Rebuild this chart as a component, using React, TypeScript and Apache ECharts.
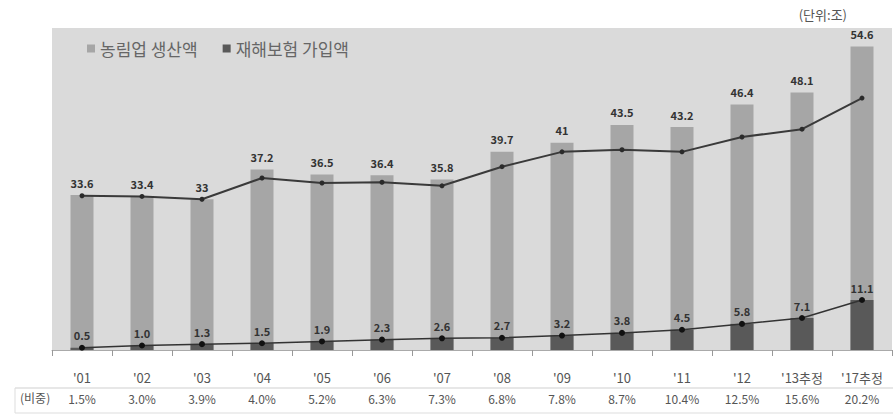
import React, { useEffect, useRef } from "react";
import * as echarts from "echarts";

const categories = ["'01", "'02", "'03", "'04", "'05", "'06", "'07", "'08", "'09", "'10", "'11", "'12", "'13추정", "'17추정"];
const production = [33.6, 33.4, 33, 37.2, 36.5, 36.4, 35.8, 39.7, 41, 43.5, 43.2, 46.4, 48.1, 54.6];
const insurance = [0.5, 1.0, 1.3, 1.5, 1.9, 2.3, 2.6, 2.7, 3.2, 3.8, 4.5, 5.8, 7.1, 11.1];
const upperTrend = [33.5, 33.4, 33.0, 36.0, 35.3, 35.4, 34.9, 37.6, 39.7, 40.0, 39.7, 41.8, 42.9, 47.3];
const shares = ["1.5%", "3.0%", "3.9%", "4.0%", "5.2%", "6.3%", "7.3%", "6.8%", "7.8%", "8.7%", "10.4%", "12.5%", "15.6%", "20.2%"];

const FONT = "'Noto Sans CJK KR', 'Noto Sans', sans-serif";

export default function App() {
  const ref = useRef<HTMLDivElement>(null);
  useEffect(() => {
    if (!ref.current) return;
    const chart = echarts.init(ref.current, null, { renderer: "svg" });
    chart.setOption({
      animation: false,
      textStyle: { fontFamily: FONT },
      legend: {
        left: 82,
        top: 35,
        itemWidth: 8,
        itemHeight: 8,
        itemGap: 25,
        icon: "rect",
        data: ["농림업 생산액", "재해보험 가입액"],
        textStyle: { fontSize: 17, color: "#666", fontFamily: FONT },
      },
      grid: {
        left: 52,
        right: 1,
        top: 28,
        bottom: 65,
        show: true,
        backgroundColor: "#dadada",
        borderWidth: 0,
      },
      xAxis: [
        {
          type: "category",
          data: categories,
          axisLine: { show: true, lineStyle: { color: "#aaaaaa", width: 1 } },
          axisTick: { show: true, length: 6, lineStyle: { color: "#999" } },
          axisLabel: { margin: 21, fontSize: 13, color: "#555", fontFamily: FONT },
        },
        {
          type: "category",
          data: shares,
          position: "bottom",
          offset: 40,
          axisLine: { show: false },
          axisTick: { show: false },
          axisLabel: { margin: 2, fontSize: 12, color: "#555", fontFamily: FONT },
        },
      ],
      yAxis: [
        { type: "value", min: 11.7, max: 57.2, show: false },
        { type: "value", min: 0, max: 71.5, show: false },
      ],
      series: [
        {
          name: "농림업 생산액",
          type: "bar",
          xAxisIndex: 0,
          yAxisIndex: 0,
          data: production,
          barWidth: 23,
          barGap: "-100%",
          itemStyle: { color: "#a6a6a6" },
          label: { show: true, position: "top", distance: 7, fontSize: 11, fontWeight: "bold", color: "#333" },
          z: 1,
        },
        {
          name: "재해보험 가입액",
          type: "bar",
          xAxisIndex: 0,
          yAxisIndex: 1,
          data: insurance,
          barWidth: 23,
          barGap: "-100%",
          itemStyle: { color: "#595959" },
          label: {
            show: true,
            position: "top",
            distance: 7,
            fontSize: 11,
            fontWeight: "bold",
            color: "#333",
            formatter: (p: any) => Number(p.value).toFixed(1),
          },
          z: 2,
        },
        {
          name: "추세",
          type: "line",
          xAxisIndex: 0,
          yAxisIndex: 0,
          data: upperTrend,
          symbol: "circle",
          symbolSize: 5,
          lineStyle: { color: "#3a3a3a", width: 2 },
          itemStyle: { color: "#2a2a2a" },
          z: 3,
        },
        {
          name: "가입액 추세",
          type: "line",
          xAxisIndex: 0,
          yAxisIndex: 1,
          data: insurance,
          symbol: "circle",
          symbolSize: 6,
          lineStyle: { color: "#333", width: 1.5 },
          itemStyle: { color: "#111" },
          z: 4,
        },
      ],
      graphic: [
        {
          type: "text",
          right: 46,
          top: 8,
          style: { text: "(단위:조)", fontSize: 13, fill: "#555", fontFamily: FONT },
        },
        {
          type: "text",
          left: 20,
          top: 391,
          style: { text: "(비중)", fontSize: 12, fill: "#555", fontFamily: FONT },
        },
        {
          type: "line",
          shape: { x1: 15, y1: 388, x2: 893, y2: 388 },
          style: { stroke: "#cfcfcf", lineWidth: 1 },
        },
        {
          type: "line",
          shape: { x1: 15, y1: 413, x2: 893, y2: 413 },
          style: { stroke: "#dddddd", lineWidth: 1 },
        },
        {
          type: "line",
          shape: { x1: 15, y1: 388, x2: 15, y2: 413 },
          style: { stroke: "#dddddd", lineWidth: 1 },
        },
      ],
    });
    return () => chart.dispose();
  }, []);
  return (
    <div
      ref={ref}
      style={{ position: "absolute", left: 0, top: 0, width: 893, height: 415, background: "#fff" }}
    />
  );
}
